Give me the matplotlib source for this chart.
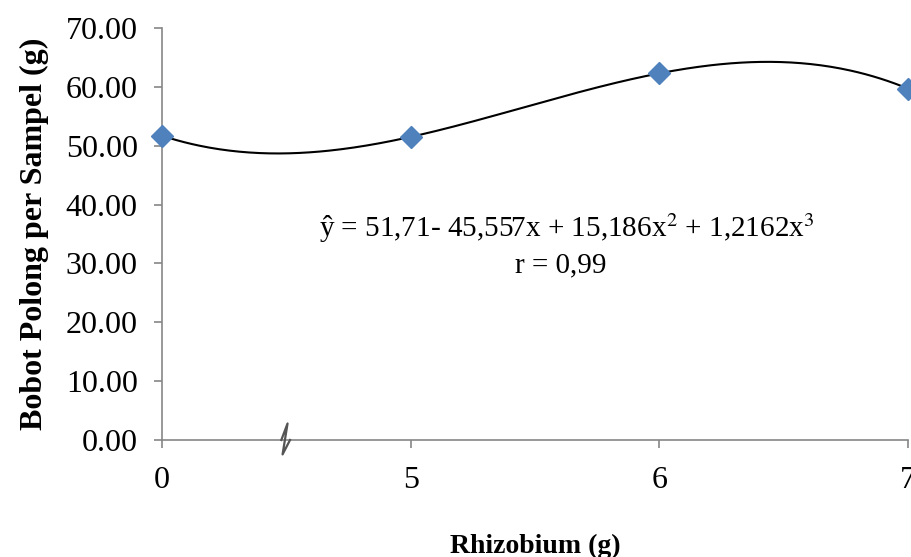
import matplotlib.pyplot as plt
import numpy as np
from matplotlib.transforms import blended_transform_factory

plt.rcParams['font.family'] = ['Liberation Serif', 'DejaVu Serif']

rhizobium = ["0", "5", "6", "7"]
bobot = [51.7, 51.5, 62.3, 59.7]

xi = np.arange(len(rhizobium))

# trendline (cubic) on category positions
coef = np.polyfit(xi, bobot, 3)
xs = np.linspace(0, len(rhizobium) - 1, 300)
ys = np.polyval(coef, xs)

fig = plt.figure(figsize=(9.12, 5.57), dpi=100)
ax = fig.add_axes([0.1776, 0.2101, 0.9956 - 0.1776, 0.9497 - 0.2101])

ax.plot(xs, ys, color='black', lw=1.5, zorder=2, clip_on=False)
ax.plot(xi, bobot, linestyle='none', marker='D', markersize=11,
        color='#4F81BD', zorder=3, clip_on=False)

ax.set_xlim(0, len(rhizobium) - 1)
ax.set_ylim(0, 70)
ax.set_yticks(np.arange(0, 71, 10))
ax.set_yticklabels(['%.2f' % v for v in np.arange(0, 71, 10)])
ax.set_xticks(xi)
ax.set_xticklabels(rhizobium)

for s in ['top', 'right']:
    ax.spines[s].set_visible(False)
for s in ['left', 'bottom']:
    ax.spines[s].set_color('#868686')
    ax.spines[s].set_linewidth(1.2)
ax.tick_params(axis='both', colors='#868686', labelcolor='black',
               labelsize=23, length=5.5, width=1.2)
ax.tick_params(axis='x', pad=13)
ax.tick_params(axis='y', pad=12)

ax.set_ylabel('Bobot Polong per Sampel (g)', fontsize=23, fontweight='bold', labelpad=12)
ax.set_xlabel('Rhizobium (g)', fontsize=20, fontweight='bold', labelpad=28)

ax.text(0.543, 0.515, r'ŷ = 51,71- 45,557x + 15,186x$^2$ + 1,2162x$^3$',
        transform=ax.transAxes, ha='center', va='center', fontsize=21,
        math_fontfamily='stix')
ax.text(0.535, 0.425, 'r = 0,99', transform=ax.transAxes,
        ha='center', va='center', fontsize=21)

# axis break mark on x axis
tr = blended_transform_factory(ax.transData, ax.transAxes)
bx = 0.505
zig_x = [bx - 0.025, bx, bx - 0.02, bx + 0.01]
zig_y = [0.0, 0.04, -0.035, 0.0]
ax.plot(zig_x, zig_y, transform=tr, color='#555555', lw=1.6, clip_on=False, zorder=4)

fig.savefig('out.png', dpi=100)
